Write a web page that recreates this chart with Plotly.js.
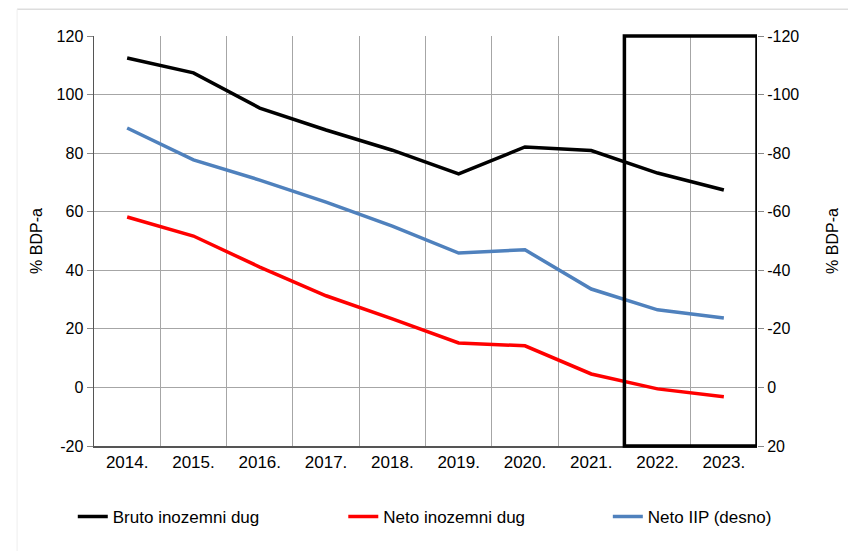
<!DOCTYPE html>
<html>
<head>
<meta charset="utf-8">
<script src="https://cdn.plot.ly/plotly-3.0.1.min.js"></script>
<style>html,body{margin:0;padding:0;background:#fff;}#chart{width:848px;height:551px;}</style>
</head>
<body>
<div id="chart"></div>
<script>
const years = ["2014.", "2015.", "2016.", "2017.", "2018.", "2019.", "2020.", "2021.", "2022.", "2023."];
const brutoDug = [112.5, 107.4, 95.4, 87.9, 81.0, 72.9, 82.1, 80.9, 73.2, 67.4];
const netoDug = [58.2, 51.7, 41.1, 31.3, 23.4, 15.2, 14.2, 4.6, -0.5, -3.2];
const netoIIP = [-88.6, -77.7, -70.8, -63.3, -55.1, -45.9, -47.0, -33.6, -26.5, -23.7];
const leftTicks = [-20, 0, 20, 40, 60, 80, 100, 120];
const rightTicks = [-120, -100, -80, -60, -40, -20, 0, 20];
const names = ["Bruto inozemni dug", "Neto inozemni dug", "Neto IIP (desno)"];

const font = "Liberation Sans, Arial, sans-serif";
const traces = [
  {x: years, y: brutoDug, name: names[0], type: "scatter", mode: "lines", line: {color: "#000000", width: 3.5}, yaxis: "y", legend: "legend"},
  {x: years, y: netoDug, name: names[1], type: "scatter", mode: "lines", line: {color: "#ff0000", width: 3.5}, yaxis: "y", legend: "legend2"},
  {x: years, y: netoIIP, name: names[2], type: "scatter", mode: "lines", line: {color: "#4f81bd", width: 3.5}, yaxis: "y2", legend: "legend3"}
];

function legendAt(x) {
  return {orientation: "h", x: x, xanchor: "left", y: -0.173, yanchor: "middle",
          font: {family: font, size: 17, color: "#000"}, bgcolor: "rgba(0,0,0,0)"};
}

const layout = {
  width: 848, height: 551,
  margin: {l: 94, r: 91, t: 36, b: 105, autoexpand: false},
  paper_bgcolor: "#ffffff", plot_bgcolor: "#ffffff",
  font: {family: font, size: 16, color: "#000"},
  showlegend: true,
  legend: legendAt(-0.032),
  legend2: legendAt(0.376),
  legend3: legendAt(0.775),
  xaxis: {type: "category", tickson: "boundaries", showgrid: true, gridcolor: "#a6a6a6", gridwidth: 1,
          showline: true, linecolor: "#555", linewidth: 1.5, ticks: "", zeroline: false,
          tickfont: {family: font, size: 17, color: "#000"}, range: [-0.5, 9.5]},
  yaxis: {range: [-20, 120], tickvals: leftTicks, ticktext: leftTicks.map(String), showgrid: true, gridcolor: "#a6a6a6",
          showline: true, linecolor: "#555", linewidth: 1.5, ticks: "outside", ticklen: 6, tickcolor: "#888",
          zeroline: false, tickfont: {family: font, size: 16, color: "#000"},
          title: {text: "% BDP-a", font: {family: font, size: 16, color: "#000"}, standoff: 10}},
  yaxis2: {overlaying: "y", side: "right", range: [20, -120], tickvals: rightTicks, ticktext: rightTicks.map(String),
           showgrid: false, zeroline: false, showline: false, ticks: "outside", ticklen: 6, tickcolor: "#888",
           tickfont: {family: font, size: 16, color: "#000"},
           title: {text: "% BDP-a", font: {family: font, size: 16, color: "#000"}, standoff: 28}},
  shapes: [
    {type: "rect", xref: "x", yref: "paper", x0: 7.5, x1: 9.5, y0: 0, y1: 1, line: {color: "#000", width: 3.5}, fillcolor: "rgba(0,0,0,0)"},
    {type: "line", xref: "paper", yref: "paper", x0: -0.116, x1: 1.14, y0: 1.065, y1: 1.065, line: {color: "#dddddd", width: 1.5}},
    {type: "line", xref: "paper", yref: "paper", x0: -0.116, x1: -0.116, y0: 1.065, y1: -0.26, line: {color: "#eeeeee", width: 1}}
  ]
};

Plotly.newPlot("chart", traces, layout, {displayModeBar: false, staticPlot: true});
</script>
</body>
</html>
